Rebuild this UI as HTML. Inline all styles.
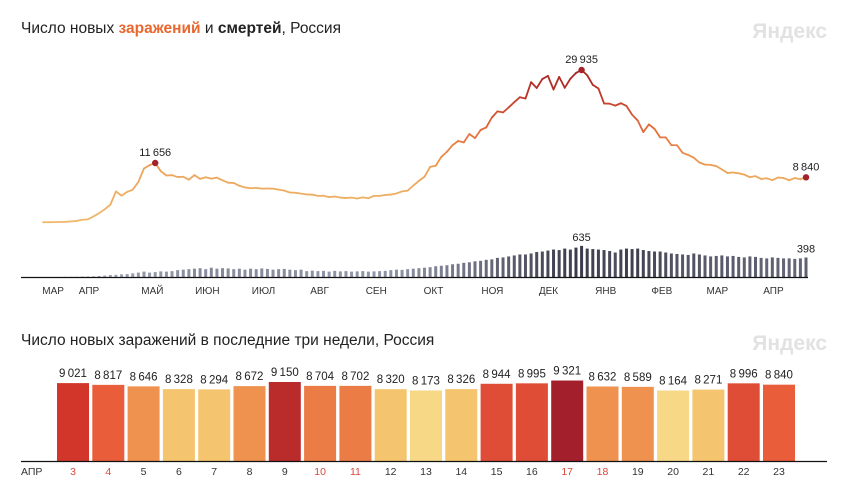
<!DOCTYPE html>
<html><head><meta charset="utf-8"><style>
body{margin:0;background:#fff;width:847px;height:496px;overflow:hidden;font-family:"Liberation Sans","DejaVu Sans",sans-serif;}
svg{display:block}
</style></head><body>
<svg width="847" height="496">
<text x="21" y="33" font-size="15.5" fill="#222">Число новых <tspan fill="#e8682f" font-weight="bold">заражений</tspan> и <tspan font-weight="bold">смертей</tspan>, Россия</text>
<text x="827" y="38" font-size="21" font-weight="bold" fill="#e2e2e2" text-anchor="end">Яндекс</text>
<g id="topchart"></g>
<text x="21" y="345" font-size="15.5" fill="#222">Число новых заражений в последние три недели, Россия</text>
<text x="827" y="350" font-size="21" font-weight="bold" fill="#e2e2e2" text-anchor="end">Яндекс</text>
<g id="bottomchart"></g>
</svg>
<script>
// daily cases every 3 days, 11 Mar 2020 .. 23 Apr 2021
const cases=[10,20,30,60,100,180,270,500,580,1150,1790,2560,3450,6060,5240,5970,6410,7930,10580,11230,11656,10030,9200,9260,8890,8950,8370,9270,8540,8850,8590,8780,8250,7790,7730,7180,6850,6690,6760,6610,6640,6610,6420,6230,5840,5810,5640,5480,5430,5200,5210,4940,5060,4840,4790,4850,4680,4900,4730,5200,5200,5360,5450,5670,6070,6220,7210,8140,8950,10890,11120,12850,13870,15150,15980,15700,17350,16550,18140,18650,20580,21800,21600,22570,23610,24580,24320,27540,26400,28150,28780,26100,28580,26430,28210,29350,29935,28900,27000,26300,23350,23310,22930,23400,22860,21150,20000,17740,19240,18360,16690,16690,15170,15150,13660,13230,12700,11750,11340,11290,11040,10400,9700,9780,9630,9370,8870,9070,8520,8650,8280,8790,8700,8260,8700,8460,8840];
const deaths=[0,0,0,1,2,3,4,8,10,14,20,30,40,45,55,60,75,90,110,90,100,115,110,120,140,150,160,170,180,160,190,170,180,175,160,170,150,170,160,175,165,150,160,165,150,140,150,120,130,120,125,110,125,115,120,110,115,120,110,115,120,125,140,150,145,160,170,180,190,200,220,230,240,260,270,290,300,320,330,350,360,390,400,420,440,460,460,480,510,520,540,560,550,580,560,600,635,580,570,560,550,530,500,560,580,570,580,550,530,520,520,500,480,470,460,450,480,460,440,420,430,440,420,430,410,400,420,410,390,380,400,390,380,380,370,380,398];
const monthLabels=["МАР","АПР","МАЙ","ИЮН","ИЮЛ","АВГ","СЕН","ОКТ","НОЯ","ДЕК","ЯНВ","ФЕВ","МАР","АПР"];
const monthIdx=[1.8,8.2,19.5,29.3,39.3,49.3,59.4,69.6,80.1,90.1,100.3,110.3,120.2,130.2];
const peakIdx=[20,96,136];

// last three weeks
const days=["3","4","5","6","7","8","9","10","11","12","13","14","15","16","17","18","19","20","21","22","23"];
const recent=[9021,8817,8646,8328,8294,8672,9150,8704,8702,8320,8173,8326,8944,8995,9321,8632,8589,8164,8271,8996,8840];
const weekend=[1,1,0,0,0,0,0,1,1,0,0,0,0,0,1,1,0,0,0,0,0];

const NS="http://www.w3.org/2000/svg";
function mk(tag,attrs,parent){const e=document.createElementNS(NS,tag);for(const k in attrs)e.setAttribute(k,attrs[k]);parent.appendChild(e);return e;}
function fmt(v){return String(v).replace(/\B(?=(\d{3})+(?!\d))/g,"\u2009");}
function lerp(a,b,t){return Math.round(a+(b-a)*t);}
function mix(c1,c2,t){return "rgb("+lerp(c1[0],c2[0],t)+","+lerp(c1[1],c2[1],t)+","+lerp(c1[2],c2[2],t)+")";}
function lineColor(v){const stops=[[0,[240,185,110]],[10000,[235,165,90]],[18000,[228,110,60]],[26000,[185,50,40]],[30000,[165,35,35]]];
 for(let i=1;i<stops.length;i++){if(v<=stops[i][0]){const t=(v-stops[i-1][0])/(stops[i][0]-stops[i-1][0]);return mix(stops[i-1][1],stops[i][1],t);}}return "rgb(165,35,35)";}

const topG=document.getElementById('topchart');
const x0=43,x1=806,n=cases.length;
const xS=i=>x0+i*(x1-x0)/(n-1);
const yC=v=>222.3-v*0.005088;
const yD=v=>277-v*0.049;

deaths.forEach((v,i)=>{const t=Math.min(1,v/600);
 const b=mk('rect',{x:xS(i)-1.5,y:yD(v),width:3,height:277-yD(v),fill:mix([165,170,190],[60,60,75],t)},topG);
 
 
});
const ax=mk('line',{x1:21,x2:808,y1:277.5,y2:277.5,stroke:'#111','stroke-width':1.2},topG);


monthLabels.forEach((m,i)=>{const t=mk('text',{x:xS(monthIdx[i]),y:294,'font-size':10,fill:'#333','text-anchor':'middle'},topG);t.textContent=m;
 
 
});
for(let i=1;i<n;i++){const s=mk('line',{x1:xS(i-1),y1:yC(cases[i-1]),x2:xS(i),y2:yC(cases[i]),stroke:lineColor((cases[i]+cases[i-1])/2),'stroke-width':1.8,'stroke-linecap':'round'},topG);
 
 
}
peakIdx.forEach(i=>{const c=mk('circle',{cx:xS(i),cy:yC(cases[i]),r:3.2,fill:'#a3232b'},topG);
 
 
 const t=mk('text',{x:xS(i),y:yC(cases[i])-7,'font-size':11,fill:'#222','text-anchor':'middle'},topG);t.textContent=fmt(cases[i]);
 
 
});
[96,136].forEach(i=>{const t=mk('text',{x:xS(i),y:yD(deaths[i])-5,'font-size':11,fill:'#222','text-anchor':'middle'},topG);t.textContent=fmt(deaths[i]);
 
 
});

const botG=document.getElementById('bottomchart');
const base=461,bx0=57,pitch=35.3,bw=32;
const yB=v=>base-v*79/9150;
function barColor(v){if(v>=9300)return '#a31f2c';if(v>=9100)return '#ba2b2c';if(v>=9000)return '#d2362b';if(v>=8900)return '#e04d36';if(v>=8800)return '#e95d3b';if(v>=8690)return '#ec7c46';if(v>=8550)return '#ef924f';if(v>=8250)return '#f4c46f';return '#f7d887';}
recent.forEach((v,i)=>{const x=bx0+i*pitch;
 const r=mk('rect',{x:x,y:yB(v),width:bw,height:base-yB(v),fill:barColor(v)},botG);
 
 
 const t=mk('text',{x:x+bw/2,y:yB(v)-6,'font-size':11.5,fill:'#222','text-anchor':'middle'},botG);t.textContent=fmt(v);
 
 
 const d=mk('text',{x:x+bw/2,y:475,'font-size':10.5,fill:weekend[i]?'#d9463c':'#333','text-anchor':'middle'},botG);d.textContent=days[i];
 
 
});
const bax=mk('line',{x1:21,x2:827,y1:461.5,y2:461.5,stroke:'#111','stroke-width':1.2},botG);


const ap=mk('text',{x:21,y:475,'font-size':10.5,fill:'#333'},botG);ap.textContent="АПР";


</script>
</body></html>
